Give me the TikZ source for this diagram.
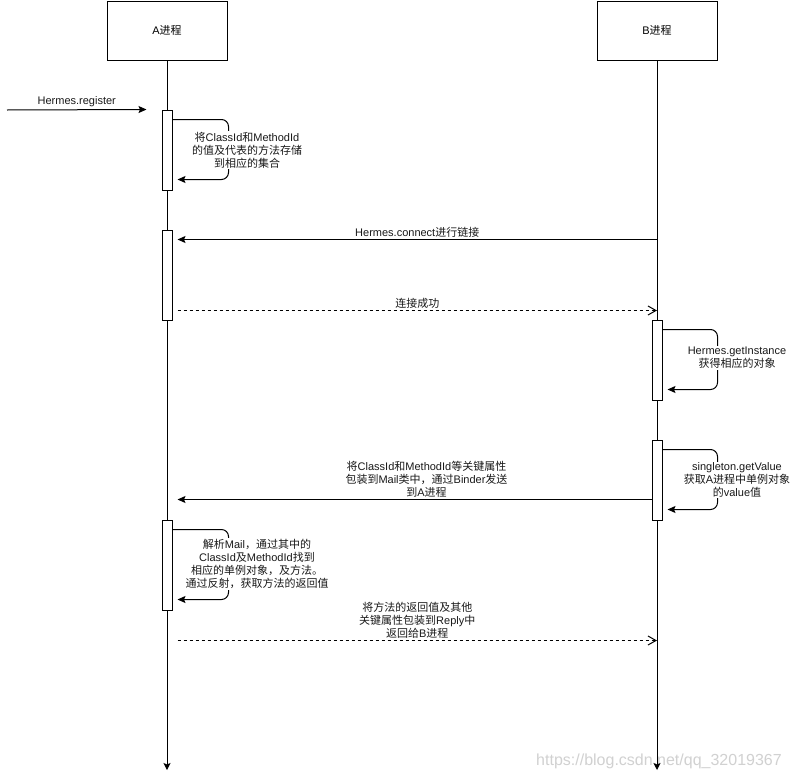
\documentclass[tikz,border=0pt]{standalone}
\usepackage{fontspec}
\setmainfont{Liberation Sans}
\newfontfamily\cj{Noto Sans CJK SC}
\newcommand{\z}[1]{{\cj #1}}
\usetikzlibrary{arrows.meta,calc}
\tikzset{
  lbl/.style={align=center,font=\fontsize{11}{13}\selectfont,inner sep=1pt,text=black!90},
  loopbg/.style={lbl,fill=white},
  head/.style={draw,line width=1pt,minimum width=120pt,minimum height=59pt,inner sep=0pt,font=\fontsize{11}{13}\selectfont},
  act/.style={draw,fill=white,line width=1pt,minimum width=10pt,inner sep=0pt},
  msg/.style={line width=1pt,-{Stealth[length=8pt,width=7pt,inset=1.5pt]}},
  ret/.style={line width=1pt,dash pattern=on 3pt off 3pt,-{Straight Barb[length=8pt,width=9pt]}},
  lifeline/.style={line width=1pt,-{Stealth[length=7pt,width=7pt,inset=1.5pt]}},
  selfmsg/.style={msg,rounded corners=7pt},
}
\begin{document}
\begin{tikzpicture}[x=1pt,y=-1pt]
\useasboundingbox[fill=white] (0,0) rectangle (791,779);

% watermark
\node[text=black!18,font=\fontsize{16}{18}\selectfont,inner sep=0pt] (wm) at (659,761) {https://blog.csdn.net/qq\_32019367};

% heads
\node[head] (A) at (167,30.5) {A\z{进程}};
\node[head] (B) at (657,30.5) {B\z{进程}};
\coordinate (Aend) at (167,770);
\coordinate (Bend) at (657,770);
\draw[lifeline] (A.south) -- (Aend);
\draw[lifeline] (B.south) -- (Bend);

% activations
\node[act,minimum height=80pt] (A1) at (167,150) {};
\node[act,minimum height=90pt] (A2) at (167,275) {};
\node[act,minimum height=90pt] (A3) at (167,565) {};
\node[act,minimum height=80pt] (B1) at (657,360) {};
\node[act,minimum height=80pt] (B2) at (657,480) {};

% register
\coordinate (reg) at (7,110);
\draw[msg] (reg) -- node[lbl,above,inner sep=2pt] {Hermes.register} ($(A1.north west)+(-15,0)$);

% self loop A1
\draw[selfmsg] ($(A1.north east)+(0,10)$) -- ++(56,0) -- ++(0,60) -- ++(-51,0);
\node[loopbg] (tA1) at (247,150) {\z{将}ClassId\z{和}MethodId\\\z{的值及代表的方法存储}\\\z{到相应的集合}};

% connect
\coordinate (c1) at ($(A2.north east)+(5,10)$);
\draw[msg] (B.south |- c1) -- node[lbl,above,inner sep=2pt] {Hermes.connect\z{进行链接}} (c1);

% connected
\coordinate (c2) at ($(A2.south east)+(5,-10)$);
\draw[ret] (c2) -- node[lbl,above,inner sep=2pt] {\z{连接成功}} (B.south |- c2);

% self loop B1
\draw[selfmsg] ($(B1.north east)+(0,10)$) -- ++(55,0) -- ++(0,60) -- ++(-50,0);
\node[loopbg] (tB1) at (737,358) {Hermes.getInstance\\\z{获得相应的对象}};

% self loop B2
\draw[selfmsg] ($(B2.north east)+(0,10)$) -- ++(55,0) -- ++(0,60) -- ++(-50,0);
\node[loopbg] (tB2) at (737,480) {singleton.getValue\\\z{获取}A\z{进程中单例对象}\\\z{的}value\z{值}};

% mail
\coordinate (c3) at ($(B2.north west)+(0,60)$);
\coordinate (c3e) at ($(A3.north east)+(5,-20)$);
\draw[msg] (c3) -- node[lbl,above,inner sep=2pt,xshift=12pt] {\z{将}ClassId\z{和}MethodId\z{等关键属性}\\\z{包装到}Mail\z{类中，通过}Binder\z{发送}\\\z{到}A\z{进程}} (c3e);

% self loop A3
\draw[selfmsg] ($(A3.north east)+(0,10)$) -- ++(56,0) -- ++(0,70) -- ++(-51,0);
\node[loopbg] (tA3) at (257,564) {\z{解析}Mail\z{，通过其中的}\\ClassId\z{及}MethodId\z{找到}\\\z{相应的单例对象，及方法。}\\\z{通过反射，获取方法的返回值}};

% return
\coordinate (c4) at ($(A3.south east)+(5,30)$);
\draw[ret] (c4) -- node[lbl,above,inner sep=2pt] {\z{将方法的返回值及其他}\\\z{关键属性包装到}Reply\z{中}\\\z{返回给}B\z{进程}} (B.south |- c4);
\end{tikzpicture}
\end{document}
